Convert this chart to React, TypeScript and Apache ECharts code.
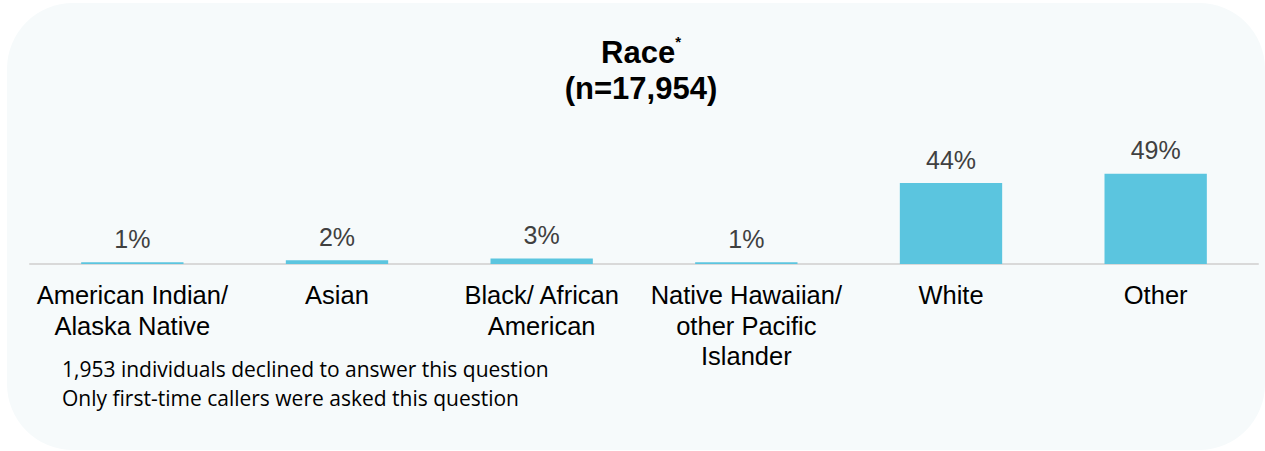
import React, { useEffect, useRef } from "react";
import * as echarts from "echarts";

const categories = [
  "American Indian/\nAlaska Native",
  "Asian",
  "Black/ African\nAmerican",
  "Native Hawaiian/\nother Pacific\nIslander",
  "White",
  "Other",
];
const values = [1, 2, 3, 1, 44, 49];
const titleMain = "Race";
const titleSub = "(n=17,954)";
const notes = [
  "1,953 individuals declined to answer this question",
  "Only first-time callers were asked this question",
];

export default function App() {
  const ref = useRef<HTMLDivElement>(null);
  useEffect(() => {
    if (!ref.current) return;
    const chart = echarts.init(ref.current, null, { renderer: "svg" });
    chart.setOption({
      animation: false,
      backgroundColor: "#ffffff",
      graphic: [
        {
          type: "rect",
          z: -10,
          shape: { x: 7, y: 3, width: 1258, height: 447, r: 66 },
          style: { fill: "#f6fafb" },
          silent: true,
        },
        {
          type: "text",
          left: 62,
          top: 354,
          style: {
            text: notes.join("\n"),
            font: "21px 'Open Sans'",
            lineHeight: 29,
            fill: "#000000",
          },
        },
        {
          type: "text",
          x: 641,
          y: 34,
          style: {
            text: `{a|${titleMain}}{s|*}\n{a|${titleSub}}`,
            align: "center",
            verticalAlign: "top",
            rich: {
              a: {
                fontFamily: "Liberation Sans",
                fontWeight: "bold",
                fontSize: 31,
                fill: "#000000",
                lineHeight: 36,
              },
              s: {
                fontFamily: "Liberation Sans",
                fontWeight: "bold",
                fontSize: 15,
                fill: "#000000",
                verticalAlign: "top",
                lineHeight: 36,
                padding: [0, 0, 12, 0],
              },
            },
          },
        },
      ],
      grid: { left: 30, right: 7, top: 80, bottom: 187, containLabel: false },
      xAxis: {
        type: "category",
        data: categories,
        axisLine: { lineStyle: { color: "#d9d9d9", width: 2 } },
        axisTick: { show: false },
        axisLabel: {
          interval: 0,
          margin: 16,
          fontFamily: "Liberation Sans",
          fontSize: 25.5,
          lineHeight: 30.5,
          color: "#000000",
        },
      },
      yAxis: {
        type: "value",
        min: 0,
        max: 100,
        show: false,
      },
      series: [
        {
          type: "bar",
          data: values,
          barWidth: "50%",
          itemStyle: { color: "#5bc5df" },
          label: {
            show: true,
            position: "top",
            distance: 11,
            formatter: "{c}%",
            fontFamily: "Liberation Sans",
            fontSize: 25,
            color: "#404040",
          },
        },
      ],
    });
    return () => chart.dispose();
  }, []);
  return (
    <div
      ref={ref}
      style={{ position: "fixed", left: 0, top: 0, width: 1265, height: 451 }}
    />
  );
}
